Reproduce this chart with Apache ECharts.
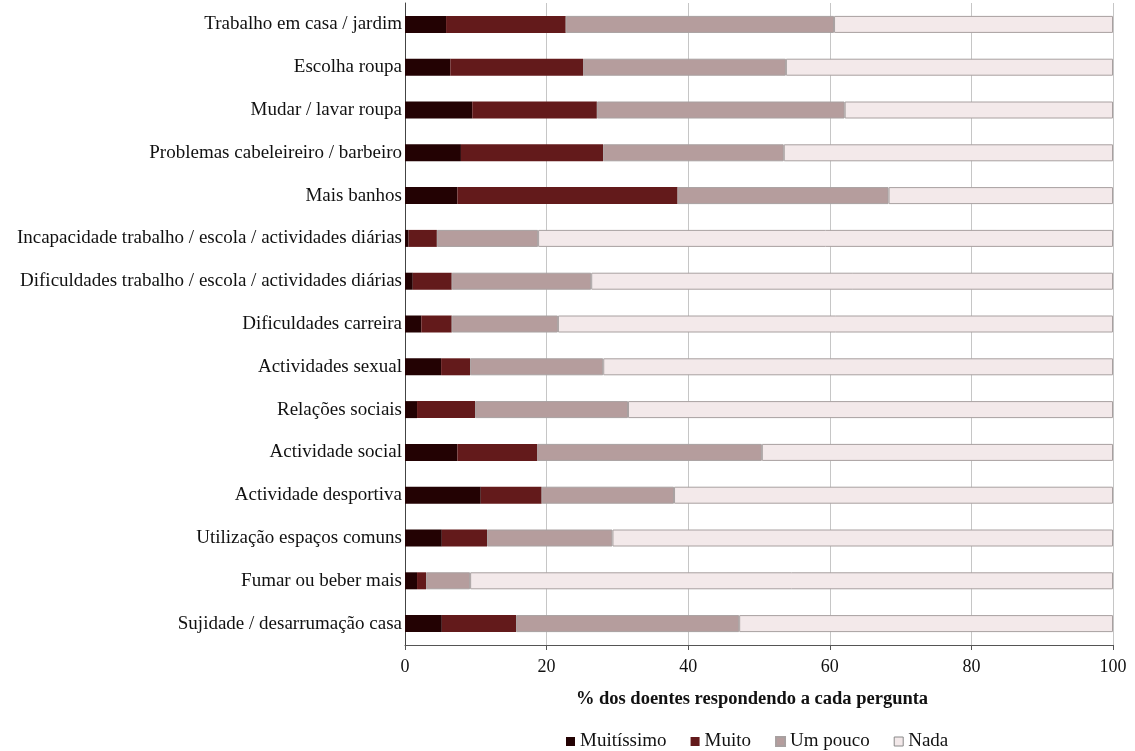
<!DOCTYPE html>
<html>
<head>
<meta charset="utf-8">
<script src="https://cdn.jsdelivr.net/npm/echarts@6/dist/echarts.min.js"></script>
<style>
  html, body { margin: 0; padding: 0; background: #ffffff; }
  #chart { width: 1135px; height: 751px; }
</style>
</head>
<body>
<div id="chart"></div>
<script>
// Items, listed top to bottom
const categories = [
  'Trabalho em casa / jardim',
  'Escolha roupa',
  'Mudar / lavar roupa',
  'Problemas cabeleireiro / barbeiro',
  'Mais banhos',
  'Incapacidade trabalho / escola / actividades diárias',
  'Dificuldades trabalho / escola / actividades diárias',
  'Dificuldades carreira',
  'Actividades sexual',
  'Relações sociais',
  'Actividade social',
  'Actividade desportiva',
  'Utilização espaços comuns',
  'Fumar ou beber mais',
  'Sujidade / desarrumação casa'
];

// Percentage of patients per answer, same order as categories
const muitissimo = [5.8, 6.4, 9.5, 7.9, 7.4, 0.5, 1.1, 2.3, 5.1, 1.7, 7.4, 10.7, 5.2, 1.7, 5.2];
const muito      = [16.9, 18.8, 17.6, 20.1, 31.1, 4.0, 5.5, 4.3, 4.1, 8.2, 11.3, 8.6, 6.4, 1.3, 10.5];
const umPouco    = [37.9, 28.6, 35.0, 25.5, 29.8, 14.3, 19.7, 15.0, 18.8, 21.6, 31.7, 18.7, 17.7, 6.2, 31.5];
const nada       = [39.4, 46.2, 37.9, 46.5, 31.7, 81.2, 73.7, 78.4, 72.0, 68.5, 49.6, 62.0, 70.7, 90.8, 52.8];

const xTicks = [0, 20, 40, 60, 80, 100];
const seriesNames = ['Muitíssimo', 'Muito', 'Um pouco', 'Nada'];

const font = '"Liberation Serif", "DejaVu Serif", serif';
const colors = ['#230203', '#631a1b', '#b59d9d', '#f3e9ea'];

const chart = echarts.init(document.getElementById('chart'));

function barSeries(name, data, i) {
  const outlined = i >= 2;
  return {
    name: name,
    type: 'bar',
    stack: 'total',
    barWidth: 17,
    data: data,
    itemStyle: {
      color: colors[i],
      borderColor: outlined ? '#a8a0a0' : colors[i],
      borderWidth: outlined ? 1 : 0
    },
    emphasis: { disabled: true }
  };
}

chart.setOption({
  animation: false,
  textStyle: { fontFamily: font },
  grid: { left: 405, right: 22, top: 3, bottom: 106, containLabel: false, outerBoundsMode: 'none' },
  legend: {
    top: 727,
    left: 561,
    itemWidth: 9,
    itemHeight: 9,
    itemGap: 24,
    icon: 'rect',
    textStyle: { fontFamily: font, fontSize: 19, color: '#111' },
    data: seriesNames.map((n, i) => ({
      name: n,
      itemStyle: i === 3 ? { color: colors[3], borderColor: '#8a8a8a', borderWidth: 1 } : { color: colors[i] }
    }))
  },
  xAxis: {
    type: 'value',
    min: xTicks[0],
    max: xTicks[xTicks.length - 1],
    interval: 20,
    name: '% dos doentes respondendo a cada pergunta',
    nameLocation: 'middle',
    nameGap: 45,
    nameTextStyle: { fontFamily: font, fontSize: 18.5, fontWeight: 'bold', color: '#111', padding: [0, 14, 0, 0] },
    axisLine: { show: true, lineStyle: { color: '#555', width: 1 } },
    axisTick: { show: true, length: 5, lineStyle: { color: '#555' } },
    axisLabel: { fontFamily: font, fontSize: 18, color: '#111', margin: 13 },
    splitLine: { show: true, lineStyle: { color: '#c6c6c6', width: 1 } }
  },
  yAxis: {
    type: 'category',
    inverse: true,
    data: categories,
    axisLine: { show: true, lineStyle: { color: '#444', width: 1 } },
    axisTick: { show: false },
    axisLabel: { fontFamily: font, fontSize: 19, color: '#111', margin: 3 }
  },
  series: [
    barSeries(seriesNames[0], muitissimo, 0),
    barSeries(seriesNames[1], muito, 1),
    barSeries(seriesNames[2], umPouco, 2),
    barSeries(seriesNames[3], nada, 3)
  ]
});
</script>
</body>
</html>
